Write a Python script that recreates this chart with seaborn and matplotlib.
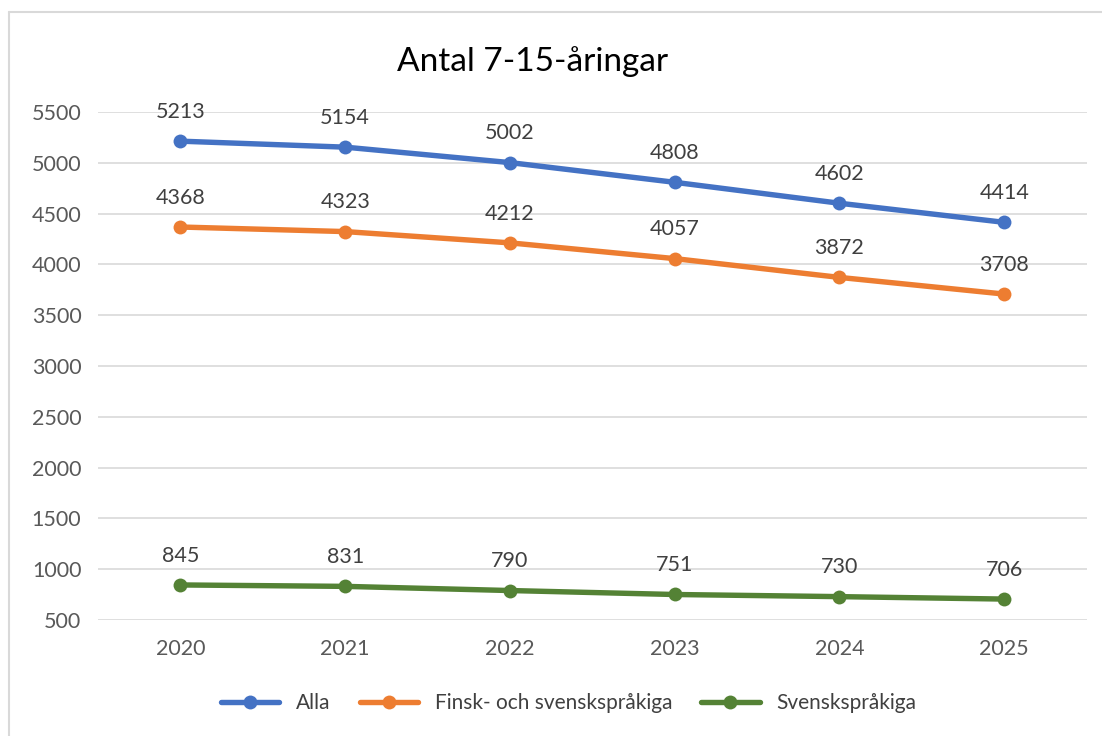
import numpy as np
import pandas as pd
import matplotlib
matplotlib.use("Agg")
import matplotlib.pyplot as plt
import seaborn as sns
from matplotlib.lines import Line2D

# Data
years = ["2020", "2021", "2022", "2023", "2024", "2025"]
alla = [5213, 5154, 5002, 4808, 4602, 4414]
finsk_svensk = [4368, 4323, 4212, 4057, 3872, 3708]
svensk = [845, 831, 790, 751, 730, 706]
series_names = ["Alla", "Finsk- och svenskspråkiga", "Svenskspråkiga"]
colors = ["#4472C4", "#ED7D31", "#548235"]

df = pd.DataFrame({
    "year": years * 3,
    "value": alla + finsk_svensk + svensk,
    "series": [series_names[0]] * 6 + [series_names[1]] * 6 + [series_names[2]] * 6,
})
df["x"] = df["year"].map({y: i for i, y in enumerate(years)})

sns.set_theme(style="white")
plt.rcParams["font.family"] = ["Lato", "DejaVu Sans"]

fig = plt.figure(figsize=(11.02, 7.36), dpi=100)
ax = fig.add_axes([0.089, 1 - 620 / 736, 0.897, (620 - 112) / 736])

sns.lineplot(
    data=df, x="x", y="value", hue="series", hue_order=series_names,
    palette=colors, marker="o", markersize=10, markeredgewidth=0,
    linewidth=3.9, legend=False, ax=ax,
)

# data labels
for name, vals in zip(series_names, [alla, finsk_svensk, svensk]):
    for i, v in enumerate(vals):
        ax.annotate(str(v), (i, v), xytext=(0, 21), textcoords="offset points",
                    ha="center", va="center", fontsize=15.5, color="#404040")

ax.set_xlim(-0.5, len(years) - 0.5)
ax.set_ylim(500, 5500)
ax.set_yticks(np.arange(500, 5501, 500))
ax.set_xticks(range(len(years)))
ax.set_xticklabels(years)
ax.grid(axis="y", color="#D9D9D9", linewidth=1.2)
ax.set_axisbelow(True)
for s in ax.spines.values():
    s.set_visible(False)
ax.tick_params(axis="both", length=0, labelsize=15.5, labelcolor="#595959")
ax.tick_params(axis="y", pad=12)
ax.tick_params(axis="x", pad=14)
ax.set_xlabel("")
ax.set_ylabel("")

fig.text(0.483, 1 - 62 / 736, "Antal 7-15-åringar", ha="center", va="center",
         fontsize=24, color="#000000")

handles = [Line2D([0], [0], color=c, lw=3.9, marker="o", markersize=10,
                  markeredgewidth=0) for c in colors]
fig.legend(handles, series_names, loc="center", bbox_to_anchor=(0.516, 1 - 703 / 736),
           ncol=3, frameon=False, fontsize=15, labelcolor="#404040",
           handlelength=2.8, columnspacing=1.4, handletextpad=0.8)

# chart border (left and top visible)
fig.add_artist(Line2D([8.5 / 1102, 8.5 / 1102], [0, 1 - 12 / 736],
                      transform=fig.transFigure, color="#D9D9D9", lw=1.5))
fig.add_artist(Line2D([8.5 / 1102, 1], [1 - 12 / 736, 1 - 12 / 736],
                      transform=fig.transFigure, color="#D9D9D9", lw=1.5))

fig.savefig("out.png", dpi=100)
plt.close(fig)
